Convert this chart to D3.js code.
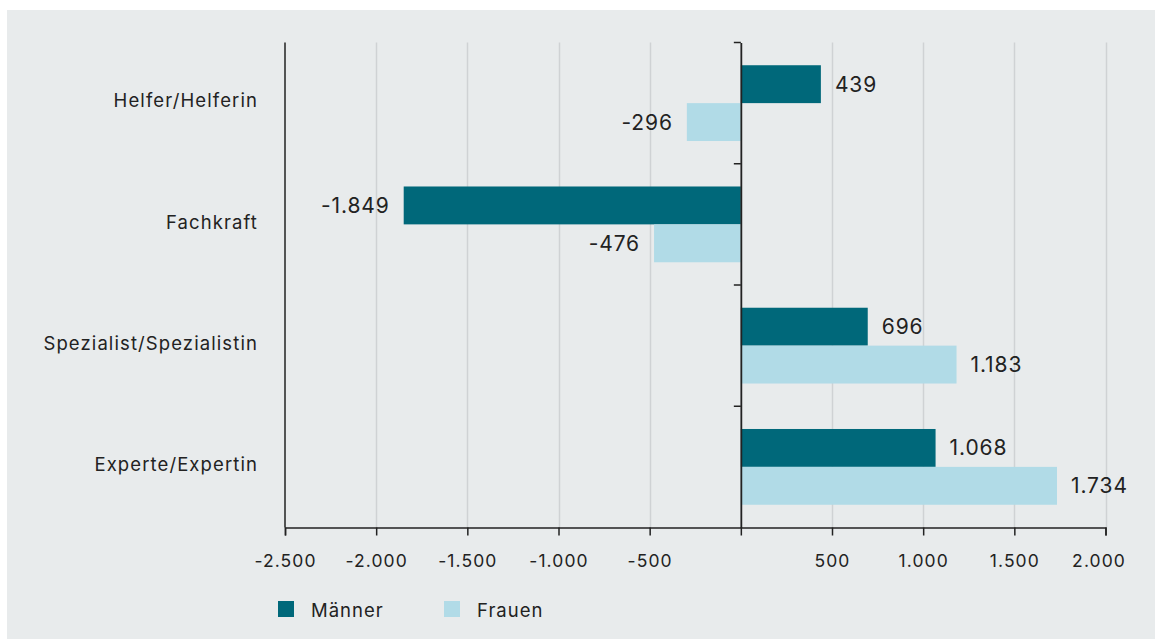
<!DOCTYPE html>
<html><head><meta charset="utf-8">
<script src="https://cdn.jsdelivr.net/npm/d3@7"></script>
<style>
body{margin:0;background:#fff;}
text{font-family:Inter, "Open Sans", sans-serif;fill:#222;}
</style></head>
<body><svg id="c" width="1162" height="639"></svg>
<script>
const categories = ["Helfer/Helferin","Fachkraft","Spezialist/Spezialistin","Experte/Expertin"];
const seriesNames = ["Männer","Frauen"];
const maenner = [439,-1849,696,1068];
const frauen = [-296,-476,1183,1734];
const tickValues = [-2500,-2000,-1500,-1000,-500,0,500,1000,1500,2000];
const colors = {"Männer":"#00687a","Frauen":"#b1dbe7"};

const loc = d3.formatLocale({decimal:",",thousands:".",grouping:[3],currency:["","€"],minus:"-"});
const fmt = loc.format(",d");

const svg = d3.select("#c");
svg.append("rect").attr("x",7).attr("y",10).attr("width",1148).attr("height",629).attr("fill","#e8ebec");

const x = d3.scaleLinear().domain([-2500,2000]).range([285,1105.5]);
const y = d3.scaleBand().domain(categories).range([42.5,527.5]);
const ys = d3.scaleBand().domain(seriesNames).range([0,y.bandwidth()]).paddingOuter(0.6);

// gridlines
svg.append("g").selectAll("line").data(tickValues.filter(v=>v!==0 && v!==-2500)).join("line")
  .attr("x1",d=>Math.round(x(d))+0.5).attr("x2",d=>Math.round(x(d))+0.5)
  .attr("y1",42.5).attr("y2",527.5).attr("stroke","#cfd2d4").attr("stroke-width",1.5);

// bars
const data = [];
categories.forEach((c,i)=>{
  data.push({cat:c,s:"Männer",v:maenner[i]});
  data.push({cat:c,s:"Frauen",v:frauen[i]});
});
svg.append("g").selectAll("rect").data(data).join("rect")
  .attr("x",d=>x(Math.min(0,d.v))).attr("width",d=>Math.abs(x(d.v)-x(0)))
  .attr("y",d=>y(d.cat)+ys(d.s)).attr("height",ys.bandwidth())
  .attr("fill",d=>colors[d.s]);

// value labels
svg.append("g").selectAll("text").data(data).join("text")
  .attr("x",d=>d.v>=0 ? x(d.v)+14 : x(d.v)-14)
  .attr("y",d=>y(d.cat)+ys(d.s)+ys.bandwidth()/2)
  .attr("dy","0.36em")
  .attr("text-anchor",d=>d.v>=0?"start":"end")
  .attr("font-size",21).attr("letter-spacing","0.9px").text(d=>fmt(d.v));

// x axis
const xAxis = d3.axisBottom(x).tickValues(tickValues).tickSize(8).tickPadding(19)
  .tickFormat(d=>d===0?"":fmt(d));
const gx = svg.append("g").attr("transform","translate(0,527.5)").call(xAxis);
gx.select(".domain").attr("stroke","#222").attr("stroke-width",1.5);
gx.selectAll(".tick line").attr("stroke","#222").attr("stroke-width",1.5);
gx.selectAll(".tick text").attr("font-size",17.5).attr("fill","#222").attr("letter-spacing","1.1px")
  .style("font-family","Inter, sans-serif");
// last label kept inside the plot edge
gx.selectAll(".tick").filter(d=>d===tickValues[tickValues.length-1]).select("text")
  .attr("text-anchor","end").attr("x",20);

// left line at -2500
svg.append("line").attr("x1",x(-2500)).attr("x2",x(-2500)).attr("y1",42.5).attr("y2",527.5)
  .attr("stroke","#222").attr("stroke-width",1.5);

// zero axis with ticks at band edges
const yAxis = d3.axisLeft(y).tickSize(0).tickFormat("");
const gy = svg.append("g").attr("transform",`translate(${x(0)},0)`).call(yAxis);
gy.select(".domain").attr("stroke","#222").attr("stroke-width",1.8);
gy.selectAll("line.edge").data(categories).join("line").attr("class","edge")
  .attr("x1",-7).attr("x2",0).attr("y1",d=>y(d)).attr("y2",d=>y(d))
  .attr("stroke","#222").attr("stroke-width",1.5);

// category labels
svg.append("g").selectAll("text").data(categories).join("text")
  .attr("x",258).attr("y",d=>y(d)+y.bandwidth()/2-2.5).attr("dy","0.36em")
  .attr("text-anchor","end").attr("font-size",18.5).attr("letter-spacing","1.1px").text(d=>d);

// legend
const lg = svg.append("g").attr("transform","translate(278,601)");
seriesNames.forEach((s,i)=>{
  const g = lg.append("g").attr("transform",`translate(${i*166},0)`);
  g.append("rect").attr("width",16).attr("height",16).attr("fill",colors[s]);
  g.append("text").attr("x",33).attr("y",9).attr("dy","0.36em").attr("font-size",18.5)
    .attr("letter-spacing","1px").text(s);
});
</script></body></html>
